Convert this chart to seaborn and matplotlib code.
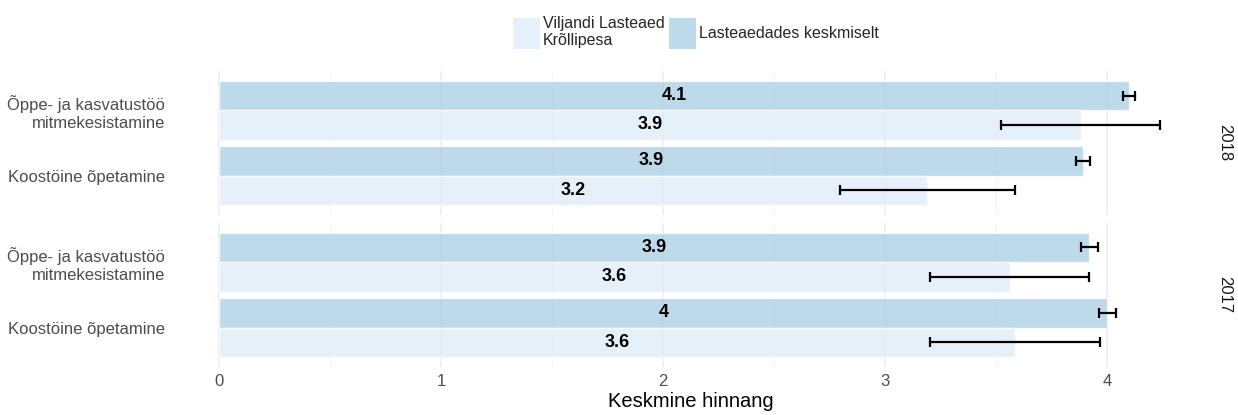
import numpy as np
import pandas as pd
import matplotlib
matplotlib.use("Agg")
import matplotlib.pyplot as plt
import matplotlib.patches as mpatches
import seaborn as sns

years = ["2018", "2017"]
categories = ["Õppe- ja kasvatustöö\nmitmekesistamine", "Koostöine õpetamine"]
groups = ["Lasteaedades keskmiselt", "Viljandi Lasteaed\nKrõllipesa"]

# mean values per year: [category][group]
avg_2018 = [4.10, 3.89]
own_2018 = [3.88, 3.19]
avg_2017 = [3.92, 4.00]
own_2017 = [3.56, 3.585]
# half-widths of the error bars
avg_err_2018 = [0.027, 0.032]
own_err_2018 = [0.36, 0.396]
avg_err_2017 = [0.04, 0.038]
own_err_2017 = [0.36, 0.382]

colors = {groups[0]: "#A6CEE3", groups[1]: "#DEEBF7"}

rows = []
for year, avg, own, aerr, oerr in [("2018", avg_2018, own_2018, avg_err_2018, own_err_2018),
                                   ("2017", avg_2017, own_2017, avg_err_2017, own_err_2017)]:
    for i, c in enumerate(categories):
        rows.append(dict(year=year, category=c, group=groups[0], value=avg[i], err=aerr[i]))
        rows.append(dict(year=year, category=c, group=groups[1], value=own[i], err=oerr[i]))
df = pd.DataFrame(rows)

sns.set_theme(style="white")
plt.rcParams["font.family"] = ["Liberation Sans", "DejaVu Sans"]

fig = plt.figure(figsize=(12.38, 4.15), dpi=100)
left, width = 0.1414, 0.8336
axes = [fig.add_axes([left, 0.482, width, 0.347]),
        fig.add_axes([left, 0.116, width, 0.347])]

for ax, year in zip(axes, years):
    sub = df[df.year == year]
    ax.set_axisbelow(True)
    ax.set_xticks([0.5, 1.5, 2.5, 3.5], minor=True)
    ax.grid(axis="x", which="major", color="#EBEBEB", lw=1.1)
    ax.grid(axis="x", which="minor", color="#F2F2F2", lw=0.6)
    ax.grid(axis="y", which="major", color="#EBEBEB", lw=1.4)
    sns.barplot(data=sub, y="category", x="value", hue="group", order=categories,
                hue_order=groups, palette=colors, orient="h", width=0.9, saturation=1,
                errorbar=None, alpha=0.75, legend=False, ax=ax)
    for cont, g in zip(ax.containers, groups):
        gsub = sub[sub.group == g].set_index("category").loc[categories]
        ys = [b.get_y() + b.get_height() / 2 for b in cont]
        ax.errorbar(gsub.value.values, ys, xerr=gsub.err.values, fmt="none",
                    ecolor="black", elinewidth=1.6, capsize=3.5, capthick=1.6, zorder=5)
        ax.bar_label(cont, labels=[f"{round(v, 1):g}" for v in gsub.value],
                     label_type="center", fontweight="bold", fontsize=13, color="black")
    ax.set_xlim(-0.2, 4.45)
    ax.set_ylim(1.6, -0.6)
    ax.set_xticks([0, 1, 2, 3, 4])
    ax.set_ylabel("")
    ax.set_xlabel("")
    sns.despine(ax=ax, left=True, bottom=True)
    ax.tick_params(axis="both", which="both", length=0, labelsize=12, colors="#4D4D4D")
    ax.tick_params(axis="y", pad=7)
    ax.tick_params(axis="x", pad=5)
    ax.annotate(year, xy=(1, 0.5), xycoords="axes fraction", xytext=(13, 0),
                textcoords="offset points", rotation=270, ha="center", va="center",
                fontsize=12, color="#1A1A1A")

axes[0].tick_params(axis="x", labelbottom=False)
axes[1].set_xlabel("Keskmine hinnang", fontsize=14.5, color="black", labelpad=2)

handles = [mpatches.Patch(facecolor=colors[groups[1]], alpha=0.75, edgecolor="none"),
           mpatches.Patch(facecolor=colors[groups[0]], alpha=0.75, edgecolor="none")]
fig.legend(handles, [groups[1], groups[0]], loc="upper center", bbox_to_anchor=(0.562, 1.0),
           ncol=2, frameon=False, fontsize=11.5, handlelength=1.7, handleheight=2.6,
           handletextpad=0.15, columnspacing=0.3, labelspacing=0.2, borderpad=0.5)

fig.savefig("out.png", dpi=100)
